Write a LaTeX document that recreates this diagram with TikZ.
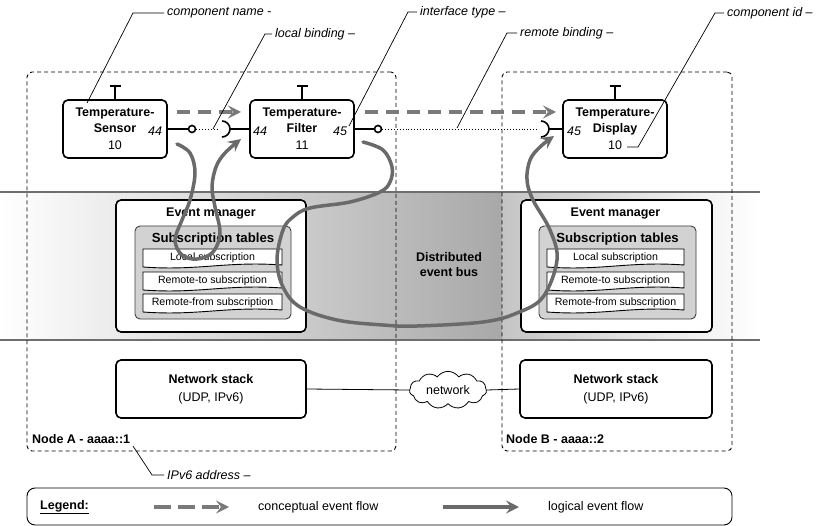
\documentclass[tikz,border=0pt]{standalone}
\usepackage{fontspec}
\setmainfont{Liberation Sans}
\usetikzlibrary{arrows.meta,shapes.symbols}
\definecolor{flowgray}{HTML}{7A7A7A}
\definecolor{logicgray}{HTML}{6A6A6A}
\definecolor{tablegray}{HTML}{D2D2D2}
\definecolor{bandline}{HTML}{6E6E6E}

% one row of a subscription table: a "document" shape with a wavy bottom
\newcommand\subrow[6]{%
  \draw[rowshape] (#2,#3) -- (#4,#3) -- (#4,{#5-2})
    .. controls ({#2+0.6*(#4-#2)},{#5-6}) and ({#2+0.4*(#4-#2)},{#5+4}) .. (#2,#5) -- cycle;
  \node[rowtext] (#1) at ({(#2+#4)/2},{#3+8.5}) {#6};
}

\begin{document}
\begin{tikzpicture}[x=1pt,y=-1pt,
  every node/.style={font=\fontsize{12.5}{15}\selectfont},
  comp/.style={draw, line width=1.6pt, rounded corners=5pt, fill=white,
    minimum width=104pt, minimum height=58pt, inner sep=0pt, align=center,
    font=\fontsize{12.5}{16}\selectfont},
  port/.style={font=\fontsize{12.5}{15}\selectfont\itshape, inner sep=0pt},
  ball/.style={circle, draw, line width=1.6pt, fill=white, minimum size=7pt, inner sep=0pt},
  wire/.style={line width=1.6pt},
  binding/.style={dotted, line width=0.9pt},
  lbl/.style={font=\fontsize{12.5}{15}\selectfont\itshape, inner sep=3pt, anchor=west},
  leader/.style={line width=0.7pt},
  nodebox/.style={draw, dashed, dash pattern=on 4pt off 3pt, line width=0.9pt, rounded corners=5pt},
  em/.style={draw, line width=1.6pt, rounded corners=5pt, fill=white},
  subtab/.style={draw=black!75, line width=0.9pt, rounded corners=5pt, fill=tablegray},
  rowshape/.style={draw, line width=0.9pt, fill=white},
  rowtext/.style={font=\fontsize{10.6}{12}\selectfont, inner sep=0pt},
  stack/.style={draw, line width=1.6pt, rounded corners=5pt, fill=white,
    minimum height=58pt, align=center, inner sep=0pt, font=\fontsize{12.5}{18}\selectfont},
  concept/.style={draw=flowgray, line width=3.5pt, dash pattern=on 13pt off 8pt,
    -{Stealth[length=13pt, width=13pt, inset=5pt, fill=flowgray]}},
  logic/.style={draw=logicgray, line width=3.5pt, line cap=round,
    -{Stealth[length=13pt, width=13pt, inset=5pt, fill=logicgray]}},
]
\useasboundingbox (0,0) rectangle (818,526);

% event bus band
\shade[left color=white, right color=black!34] (0,192) rectangle (502,340);
\shade[left color=black!23, right color=white] (502,192) rectangle (760,340);
\draw[bandline, line width=1.5pt] (0,192) -- (760,192);
\draw[bandline, line width=1.5pt] (0,340) -- (760,340);

% the two hosts
\node[nodebox, minimum width=369pt, minimum height=379pt] (nodeA) at (211.5,261.5) {};
\node[nodebox, minimum width=230pt, minimum height=379pt] (nodeB) at (617,261.5) {};
\node[font=\fontsize{12.5}{15}\selectfont\bfseries, anchor=west, inner sep=0pt] (nodeAlbl) at (32,439) {Node A - aaaa::1};
\node[font=\fontsize{12.5}{15}\selectfont\bfseries, anchor=west, inner sep=0pt] (nodeBlbl) at (506,439) {Node B - aaaa::2};

\node[font=\fontsize{12.5}{15}\selectfont\bfseries, align=center] (bus) at (449,265) {Distributed\\event bus};

% event managers
\node[em, minimum width=190pt, minimum height=132pt] (emA) at (211,266) {};
\node[font=\fontsize{12.5}{15}\selectfont\bfseries, inner sep=0pt] (emAt) at (211,214) {Event manager};
\node[subtab, minimum width=156pt, minimum height=93pt] (stA) at (213,272.5) {};
\node[font=\fontsize{13.2}{15}\selectfont\bfseries, inner sep=0pt] (stAt) at (213,239) {Subscription tables};
\subrow{rA1}{143}{249}{282}{267}{Local subscription}
\subrow{rA2}{143}{272}{282}{290}{Remote-to subscription}
\subrow{rA3}{143}{294}{282}{312}{Remote-from subscription}

\node[em, minimum width=191pt, minimum height=132pt] (emB) at (616.5,266) {};
\node[font=\fontsize{12.5}{15}\selectfont\bfseries, inner sep=0pt] (emBt) at (615.5,214) {Event manager};
\node[subtab, minimum width=157pt, minimum height=93pt] (stB) at (617.5,272.5) {};
\node[font=\fontsize{13.2}{15}\selectfont\bfseries, inner sep=0pt] (stBt) at (617.5,239) {Subscription tables};
\subrow{rB1}{547}{249}{684}{267}{Local subscription}
\subrow{rB2}{547}{272}{684}{290}{Remote-to subscription}
\subrow{rB3}{547}{294}{684}{312}{Remote-from subscription}

% network stacks and the network between them
\node[stack, minimum width=190pt] (nsA) at (211,389) {\textbf{Network stack}\\(UDP, IPv6)};
\node[stack, minimum width=192pt] (nsB) at (616,389) {\textbf{Network stack}\\(UDP, IPv6)};
\node[cloud, draw, line width=0.8pt, fill=white, cloud puffs=11, cloud puff arc=110, aspect=2.1,
  minimum width=77pt, minimum height=36pt, inner sep=0pt] (net) at (448,390) {network};
\draw[line width=0.8pt] (nsA.east) -- (net.west);
\draw[line width=0.8pt] (net.east) -- (nsB.west);

% components
\node[comp] (sensor) at (115,129) {\textbf{Temperature-}\\\textbf{Sensor}\\[1pt]10};
\node[comp] (filter) at (302,129) {\textbf{Temperature-}\\\textbf{Filter}\\[1pt]11};
\node[comp] (display) at (615,129) {\textbf{Temperature-}\\\textbf{Display}\\[1pt]10};
\node[port] (sensorOut) at (155,131) {44};
\node[port] (filterIn) at (260,131) {44};
\node[port] (filterOut) at (340,131) {45};
\node[port] (displayIn) at (574,131) {45};

% lifecycle bars on top of the components
\foreach \c in {sensor, filter, display} {
  \draw[wire] (\c.north) -- ++(0,-13) coordinate (\c top);
  \draw[wire] ([xshift=-5.5pt]\c top) -- ([xshift=5.5pt]\c top);
}

% provided and required interfaces with their bindings
\node[ball] (provA) at (192,129) {};
\node[ball] (provB) at (378,129) {};
\coordinate (sockF) at (222,129);
\coordinate (sockD) at (541,129);
\draw[wire] (sensor.east) -- (provA.west);
\draw[wire] (filter.east) -- (provB.west);
\draw[wire] (222,121) arc[start angle=-90, end angle=90, radius=8];
\draw[wire] (541,121) arc[start angle=-90, end angle=90, radius=8];
\draw[wire] ([xshift=8pt]sockF) -- (filter.west);
\draw[wire] ([xshift=8pt]sockD) -- (display.west);
\draw[binding] (provA.east) -- ([xshift=-4pt]sockF);
\draw[binding] (provB.east) -- ([xshift=-4pt]sockD);

% conceptual event flow
\coordinate (ca1) at (177,112);
\coordinate (ca2) at (241,112);
\coordinate (ca3) at (365,112);
\coordinate (ca4) at (556,112);
\draw[concept] (ca1) -- (ca2);
\draw[concept] (ca3) -- (ca4);

% logical event flow through the event managers
\coordinate (lf1s) at (177,144);
\coordinate (lf1e) at (241,139);
\draw[logic] plot[smooth, tension=0.6] coordinates {(lf1s) (190,153) (195,173) (190,200) (182,220)
  (175,240) (182,255) (197,259) (213,252) (220,233) (215,207) (212,187) (216,167) (225,153) (lf1e)};
\coordinate (lf2s) at (363,142);
\coordinate (lf2e) at (554,136);
\draw[logic] plot[smooth, tension=0.6] coordinates {(lf2s) (383,150) (392,167) (390,182) (380,192)
  (350,202) (310,208) (293,217) (283,230) (277,260) (283,287) (300,307) (337,320) (383,325)
  (417,326) (483,322) (517,313) (543,297) (557,260) (550,230) (533,200) (527,180) (530,160)
  (540,147) (lf2e)};

% annotations
\node[lbl] (lblName) at (164,13) {component name -};
\draw[leader] (87,103) -- (133,13) -- (lblName.west);
\node[lbl] (lblLocal) at (272,34) {local binding –};
\draw[leader] (213,129) -- (265,34) -- (lblLocal.west);
\node[lbl] (lblType) at (417,12) {interface type –};
\draw[leader] (349,126) -- (408,12) -- (lblType.west);
\node[lbl] (lblRemote) at (517,33) {remote binding –};
\draw[leader] (457,128) -- (507,33) -- (lblRemote.west);
\node[lbl] (lblId) at (724,13) {component id –};
\draw[leader] (627,147) -- (638,147) -- (715,13) -- (lblId.west);
\node[lbl] (lblAddr) at (164,475) {IPv6 address –};
\draw[leader] (133,446) -- (152,475) -- (lblAddr.west);

% legend
\node[draw, line width=0.9pt, rounded corners=8pt, minimum width=705pt, minimum height=37pt,
  inner sep=0pt] (legend) at (379.5,506.5) {};
\node[font=\fontsize{12.5}{15}\selectfont\bfseries, anchor=west, inner sep=0pt] (legendt) at (40,507) {\underline{Legend:}};
\coordinate (lg1) at (154,507);
\coordinate (lg2) at (229,507);
\coordinate (lg3) at (443,507);
\coordinate (lg4) at (519,507);
\draw[concept, dash pattern=on 17pt off 7pt] (lg1) -- (lg2);
\draw[logic, line cap=butt] (lg3) -- (lg4);
\node[anchor=west, inner sep=0pt] (legc) at (258,507) {conceptual event flow};
\node[anchor=west, inner sep=0pt] (legl) at (548,507) {logical event flow};
\end{tikzpicture}
\end{document}
